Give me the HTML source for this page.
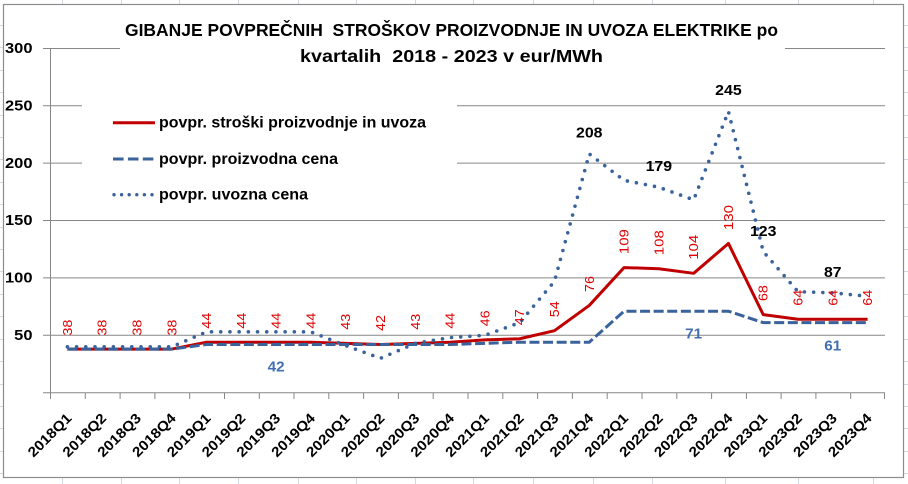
<!DOCTYPE html>
<html>
<head>
<meta charset="utf-8">
<style>
  html, body { margin:0; padding:0; background:#ffffff; }
  svg { display:block; }
  text { font-family: "Liberation Sans", Arial, sans-serif; }
</style>
</head>
<body>
<svg width="908" height="484" viewBox="0 0 908 484" xmlns="http://www.w3.org/2000/svg">
  <rect x="0" y="0" width="908" height="484" fill="#ffffff"/>
  <!-- spreadsheet gridlines outside the chart -->
  <g stroke="#d3d9e3" stroke-width="1" fill="none">
    <path d="M62.5,0V4 M121.5,0V4 M179.5,0V4 M238.5,0V4 M298.5,0V4 M356.5,0V4 M415.5,0V4 M473.5,0V4 M533.5,0V4 M593.5,0V4 M652.5,0V4 M725.5,0V4 M798.5,0V4 M873.5,0V4"/>
    <path d="M62.5,478V484 M121.5,478V484 M179.5,478V484 M238.5,478V484 M298.5,478V484 M356.5,478V484 M415.5,478V484 M473.5,478V484 M533.5,478V484 M593.5,478V484 M652.5,478V484 M725.5,478V484 M798.5,478V484 M873.5,478V484"/>
    <path d="M0,25.5H3 M0,47.5H3 M0,70.5H3 M0,92.5H3 M0,115.5H3 M0,137.5H3 M0,159.5H3 M0,182.5H3 M0,204.5H3 M0,227.5H3 M0,249.5H3 M0,271.5H3 M0,294.5H3 M0,316.5H3 M0,339.5H3 M0,361.5H3 M0,384.5H3 M0,406.5H3 M0,428.5H3 M0,451.5H3 M0,473.5H3"/>
    <path d="M904,25.5H908 M904,47.5H908 M904,70.5H908 M904,92.5H908 M904,115.5H908 M904,137.5H908 M904,159.5H908 M904,182.5H908 M904,204.5H908 M904,227.5H908 M904,249.5H908 M904,271.5H908 M904,294.5H908 M904,316.5H908 M904,339.5H908 M904,361.5H908 M904,384.5H908 M904,406.5H908 M904,428.5H908 M904,451.5H908 M904,473.5H908"/>
  </g>
  <!-- chart border -->
  <rect x="3.5" y="4.5" width="900" height="473" fill="#ffffff" stroke="#8c8c8c" stroke-width="1.2"/>

  <!-- gridlines -->
  <g stroke="#878787" stroke-width="1" fill="none">
    <path d="M43,48.5H120 M785,48.5H885"/>
    <path d="M43,105.7H82 M457,105.7H885"/>
    <path d="M43,163.1H82 M457,163.1H885"/>
    <path d="M43,220.5H885"/>
    <path d="M43,277.9H885"/>
    <path d="M43,335.3H885"/>
    <path d="M43,392.7H885"/>
    <path d="M50.5,48.3V393"/>
    <path d="M50.5,393V399 M85.3,393V399 M120.1,393V399 M154.9,393V399 M189.7,393V399 M224.5,393V399 M259.3,393V399 M294.0,393V399 M328.8,393V399 M363.6,393V399 M398.4,393V399 M433.2,393V399 M468.0,393V399 M502.8,393V399 M537.6,393V399 M572.4,393V399 M607.2,393V399 M642.0,393V399 M676.8,393V399 M711.6,393V399 M746.4,393V399 M781.1,393V399 M815.9,393V399 M850.7,393V399 M884.5,393V399"/>
  </g>

  <!-- y axis labels -->
  <g font-size="15" font-weight="bold" fill="#000" text-anchor="end">
    <text x="32.5" y="53" textLength="27.5" lengthAdjust="spacingAndGlyphs">300</text>
    <text x="32.5" y="110.4" textLength="27.5" lengthAdjust="spacingAndGlyphs">250</text>
    <text x="32.5" y="167.8" textLength="27.5" lengthAdjust="spacingAndGlyphs">200</text>
    <text x="32.5" y="225.2" textLength="27.5" lengthAdjust="spacingAndGlyphs">150</text>
    <text x="32.5" y="282.6" textLength="27.5" lengthAdjust="spacingAndGlyphs">100</text>
    <text x="32.5" y="340" textLength="18.3" lengthAdjust="spacingAndGlyphs">50</text>
  </g>

  <!-- title -->
  <g font-size="17.5" font-weight="bold" fill="#000" text-anchor="middle">
    <text x="451.5" y="36" textLength="653" lengthAdjust="spacingAndGlyphs" style="white-space:pre">GIBANJE POVPREČNIH  STROŠKOV PROIZVODNJE IN UVOZA ELEKTRIKE po</text>
    <text x="451.5" y="62" textLength="303" lengthAdjust="spacingAndGlyphs" style="white-space:pre">kvartalih  2018 - 2023 v eur/MWh</text>
  </g>

  <!-- legend -->
  <line x1="113" y1="122.7" x2="155" y2="122.7" stroke="#c00000" stroke-width="3"/>
  <line x1="113" y1="159" x2="155" y2="159" stroke="#3a629b" stroke-width="3" stroke-dasharray="10.6 4.3"/>
  <line x1="114" y1="194.7" x2="155" y2="194.7" stroke="#3a629b" stroke-width="3.4" stroke-linecap="round" stroke-dasharray="0 7.6"/>
  <g font-size="16" font-weight="bold" fill="#000">
    <text x="159" y="127.5" textLength="267" lengthAdjust="spacingAndGlyphs">povpr. stroški proizvodnje in uvoza</text>
    <text x="159" y="163.8" textLength="179" lengthAdjust="spacingAndGlyphs">povpr. proizvodna cena</text>
    <text x="159" y="199.6" textLength="149" lengthAdjust="spacingAndGlyphs">povpr. uvozna cena</text>
  </g>

  <!-- series: red -->
  <polyline fill="none" stroke="#c00000" stroke-width="3" stroke-linejoin="round"
    points="67.40,349.08 102.19,349.08 136.98,349.08 171.77,349.08 206.56,342.19 241.35,342.19 276.15,342.19 310.94,342.19 345.73,343.34 380.52,344.48 415.31,343.34 450.10,342.19 484.90,339.89 519.69,338.74 554.48,330.71 589.27,305.45 624.06,267.57 658.85,268.72 693.65,273.31 728.44,243.46 763.23,314.64 798.02,319.23 832.81,319.23 867.60,319.23"/>
  <!-- series: dashed -->
  <polyline fill="none" stroke="#3a629b" stroke-width="3" stroke-dasharray="10 3.6"
    points="67.40,349.08 102.19,349.08 136.98,349.08 171.77,349.08 206.56,344.48 241.35,344.48 276.15,344.48 310.94,344.48 345.73,344.48 380.52,344.48 415.31,344.48 450.10,344.48 484.90,343.34 519.69,342.19 554.48,342.19 589.27,342.19 624.06,311.19 658.85,311.19 693.65,311.19 728.44,311.19 763.23,322.67 798.02,322.67 832.81,322.67 867.60,322.67"/>
  <!-- series: dotted -->
  <polyline fill="none" stroke="#3a629b" stroke-width="3.6" stroke-linecap="round" stroke-linejoin="round" stroke-dasharray="0 9.2"
    points="67.40,346.78 102.19,346.78 136.98,346.78 171.77,346.78 206.56,331.86 241.35,331.86 276.15,331.86 310.94,331.86 345.73,345.63 380.52,358.26 415.31,343.34 450.10,337.60 484.90,335.30 519.69,322.67 554.48,281.34 589.27,153.92 624.06,180.32 658.85,187.21 693.65,199.84 728.44,111.44 763.23,251.50 798.02,291.68 832.81,292.82 867.60,296.27"/>

  <!-- red data labels (vertical) -->
  <g font-size="13" fill="#e00000">
    <text transform="translate(71.90,335.6) rotate(-90)" textLength="16" lengthAdjust="spacingAndGlyphs">38</text>
    <text transform="translate(106.69,335.6) rotate(-90)" textLength="16" lengthAdjust="spacingAndGlyphs">38</text>
    <text transform="translate(141.48,335.6) rotate(-90)" textLength="16" lengthAdjust="spacingAndGlyphs">38</text>
    <text transform="translate(176.27,335.6) rotate(-90)" textLength="16" lengthAdjust="spacingAndGlyphs">38</text>
    <text transform="translate(211.06,328.7) rotate(-90)" textLength="16" lengthAdjust="spacingAndGlyphs">44</text>
    <text transform="translate(245.85,328.7) rotate(-90)" textLength="16" lengthAdjust="spacingAndGlyphs">44</text>
    <text transform="translate(280.65,328.7) rotate(-90)" textLength="16" lengthAdjust="spacingAndGlyphs">44</text>
    <text transform="translate(315.44,328.7) rotate(-90)" textLength="16" lengthAdjust="spacingAndGlyphs">44</text>
    <text transform="translate(350.23,329.8) rotate(-90)" textLength="16" lengthAdjust="spacingAndGlyphs">43</text>
    <text transform="translate(385.02,331.0) rotate(-90)" textLength="16" lengthAdjust="spacingAndGlyphs">42</text>
    <text transform="translate(419.81,329.8) rotate(-90)" textLength="16" lengthAdjust="spacingAndGlyphs">43</text>
    <text transform="translate(454.60,328.7) rotate(-90)" textLength="16" lengthAdjust="spacingAndGlyphs">44</text>
    <text transform="translate(489.40,326.4) rotate(-90)" textLength="16" lengthAdjust="spacingAndGlyphs">46</text>
    <text transform="translate(524.19,325.2) rotate(-90)" textLength="16" lengthAdjust="spacingAndGlyphs">47</text>
    <text transform="translate(558.98,317.2) rotate(-90)" textLength="16" lengthAdjust="spacingAndGlyphs">54</text>
    <text transform="translate(593.77,292.0) rotate(-90)" textLength="16" lengthAdjust="spacingAndGlyphs">76</text>
    <text transform="translate(628.56,254.1) rotate(-90)" textLength="25" lengthAdjust="spacingAndGlyphs">109</text>
    <text transform="translate(663.35,255.2) rotate(-90)" textLength="25" lengthAdjust="spacingAndGlyphs">108</text>
    <text transform="translate(698.15,259.8) rotate(-90)" textLength="25" lengthAdjust="spacingAndGlyphs">104</text>
    <text transform="translate(732.94,230.0) rotate(-90)" textLength="25" lengthAdjust="spacingAndGlyphs">130</text>
    <text transform="translate(767.73,301.1) rotate(-90)" textLength="16" lengthAdjust="spacingAndGlyphs">68</text>
    <text transform="translate(802.52,305.7) rotate(-90)" textLength="16" lengthAdjust="spacingAndGlyphs">64</text>
    <text transform="translate(837.31,305.7) rotate(-90)" textLength="16" lengthAdjust="spacingAndGlyphs">64</text>
    <text transform="translate(872.10,305.7) rotate(-90)" textLength="16" lengthAdjust="spacingAndGlyphs">64</text>
  </g>

  <!-- black data labels (import price) -->
  <g font-size="15" font-weight="bold" fill="#000" text-anchor="middle">
    <text x="589.27" y="137.6" textLength="26.5" lengthAdjust="spacingAndGlyphs">208</text>
    <text x="658.85" y="171.2" textLength="26.5" lengthAdjust="spacingAndGlyphs">179</text>
    <text x="728.44" y="95.2" textLength="26.5" lengthAdjust="spacingAndGlyphs">245</text>
    <text x="763.23" y="236" textLength="26.5" lengthAdjust="spacingAndGlyphs">123</text>
    <text x="832.81" y="276.8" textLength="17.5" lengthAdjust="spacingAndGlyphs">87</text>
  </g>

  <!-- blue data labels (production price) -->
  <g font-size="15" font-weight="bold" fill="#4070b2" text-anchor="middle">
    <text x="276.15" y="371.3" textLength="17" lengthAdjust="spacingAndGlyphs">42</text>
    <text x="693.65" y="338.6" textLength="17" lengthAdjust="spacingAndGlyphs">71</text>
    <text x="832.81" y="350.4" textLength="17" lengthAdjust="spacingAndGlyphs">61</text>
  </g>

  <!-- x axis labels -->
  <g font-size="14" font-weight="bold" fill="#000" text-anchor="end">
    <text transform="translate(72.40,419) rotate(-45)" textLength="55" lengthAdjust="spacingAndGlyphs">2018Q1</text>
    <text transform="translate(107.19,419) rotate(-45)" textLength="55" lengthAdjust="spacingAndGlyphs">2018Q2</text>
    <text transform="translate(141.98,419) rotate(-45)" textLength="55" lengthAdjust="spacingAndGlyphs">2018Q3</text>
    <text transform="translate(176.77,419) rotate(-45)" textLength="55" lengthAdjust="spacingAndGlyphs">2018Q4</text>
    <text transform="translate(211.56,419) rotate(-45)" textLength="55" lengthAdjust="spacingAndGlyphs">2019Q1</text>
    <text transform="translate(246.35,419) rotate(-45)" textLength="55" lengthAdjust="spacingAndGlyphs">2019Q2</text>
    <text transform="translate(281.15,419) rotate(-45)" textLength="55" lengthAdjust="spacingAndGlyphs">2019Q3</text>
    <text transform="translate(315.94,419) rotate(-45)" textLength="55" lengthAdjust="spacingAndGlyphs">2019Q4</text>
    <text transform="translate(350.73,419) rotate(-45)" textLength="55" lengthAdjust="spacingAndGlyphs">2020Q1</text>
    <text transform="translate(385.52,419) rotate(-45)" textLength="55" lengthAdjust="spacingAndGlyphs">2020Q2</text>
    <text transform="translate(420.31,419) rotate(-45)" textLength="55" lengthAdjust="spacingAndGlyphs">2020Q3</text>
    <text transform="translate(455.10,419) rotate(-45)" textLength="55" lengthAdjust="spacingAndGlyphs">2020Q4</text>
    <text transform="translate(489.90,419) rotate(-45)" textLength="55" lengthAdjust="spacingAndGlyphs">2021Q1</text>
    <text transform="translate(524.69,419) rotate(-45)" textLength="55" lengthAdjust="spacingAndGlyphs">2021Q2</text>
    <text transform="translate(559.48,419) rotate(-45)" textLength="55" lengthAdjust="spacingAndGlyphs">2021Q3</text>
    <text transform="translate(594.27,419) rotate(-45)" textLength="55" lengthAdjust="spacingAndGlyphs">2021Q4</text>
    <text transform="translate(629.06,419) rotate(-45)" textLength="55" lengthAdjust="spacingAndGlyphs">2022Q1</text>
    <text transform="translate(663.85,419) rotate(-45)" textLength="55" lengthAdjust="spacingAndGlyphs">2022Q2</text>
    <text transform="translate(698.65,419) rotate(-45)" textLength="55" lengthAdjust="spacingAndGlyphs">2022Q3</text>
    <text transform="translate(733.44,419) rotate(-45)" textLength="55" lengthAdjust="spacingAndGlyphs">2022Q4</text>
    <text transform="translate(768.23,419) rotate(-45)" textLength="55" lengthAdjust="spacingAndGlyphs">2023Q1</text>
    <text transform="translate(803.02,419) rotate(-45)" textLength="55" lengthAdjust="spacingAndGlyphs">2023Q2</text>
    <text transform="translate(837.81,419) rotate(-45)" textLength="55" lengthAdjust="spacingAndGlyphs">2023Q3</text>
    <text transform="translate(872.60,419) rotate(-45)" textLength="55" lengthAdjust="spacingAndGlyphs">2023Q4</text>
  </g>
</svg>
</body>
</html>
